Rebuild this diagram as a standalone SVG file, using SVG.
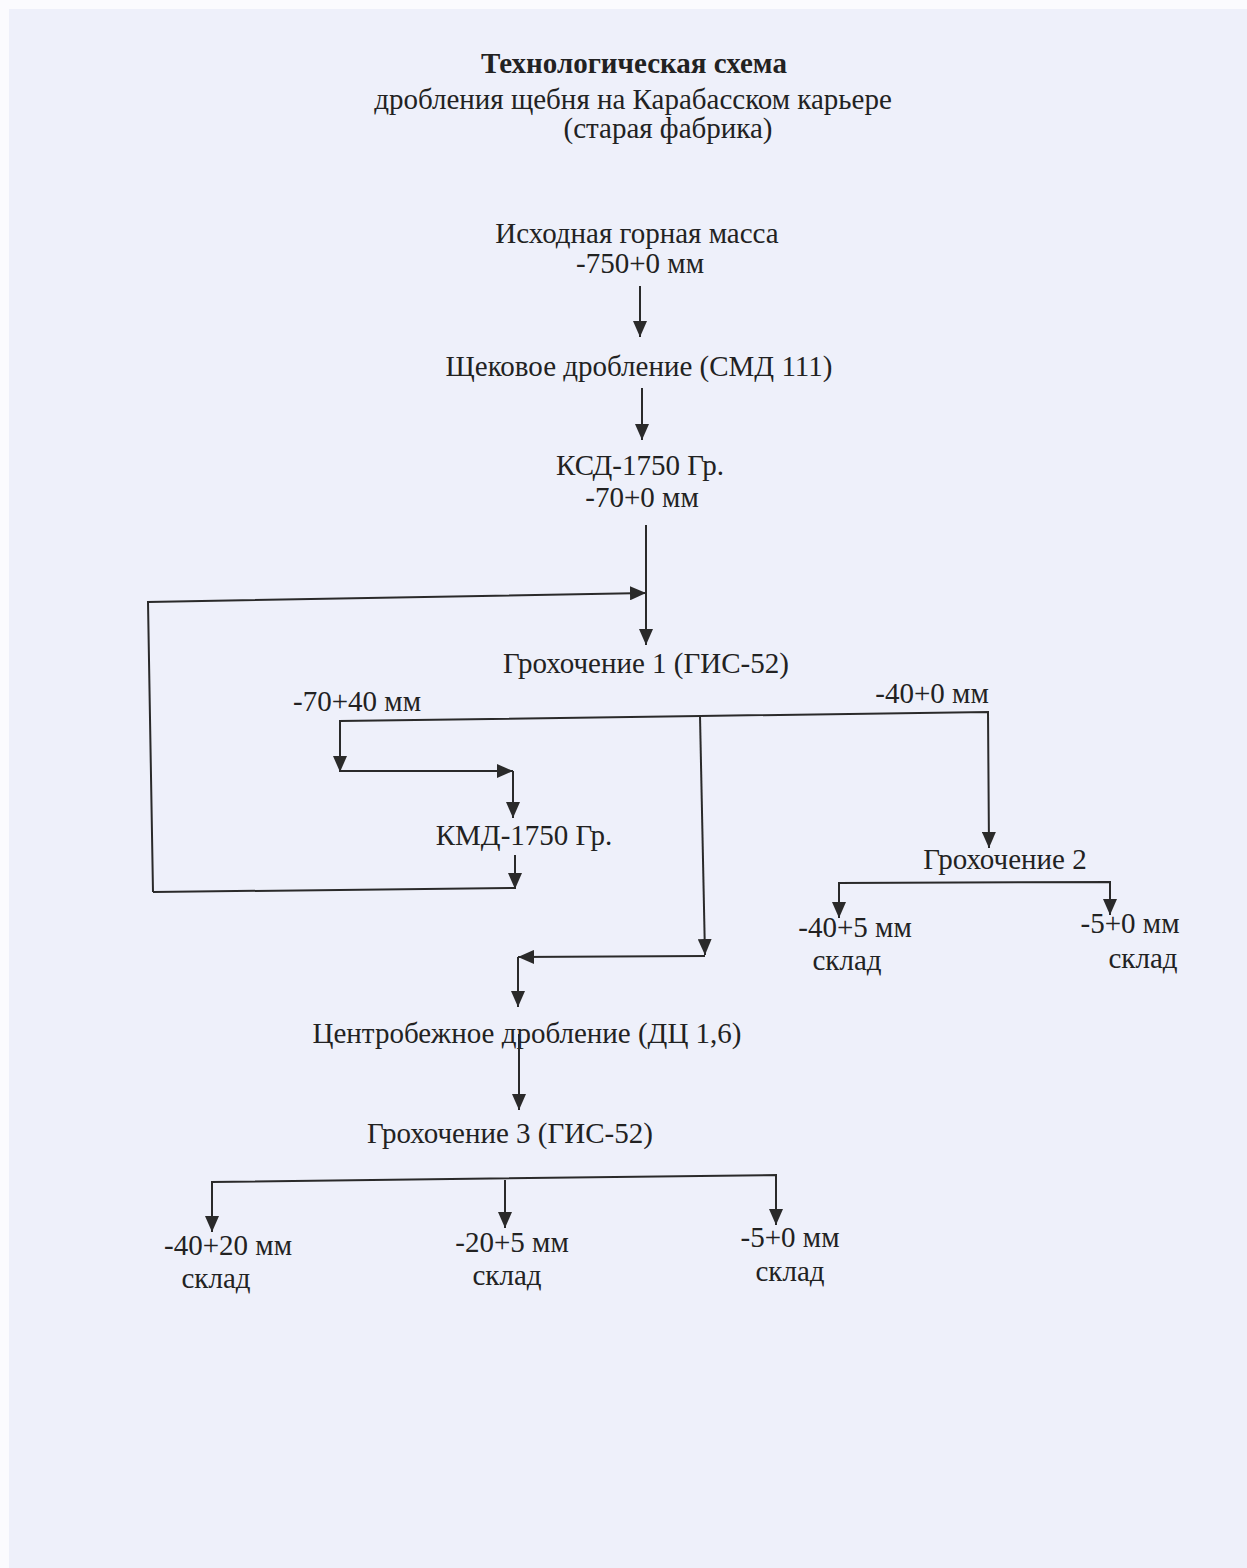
<svg xmlns="http://www.w3.org/2000/svg" width="1247" height="1568" viewBox="0 0 1247 1568">
<defs>
<style>
text{font-family:"Liberation Serif","Times New Roman",serif;font-size:29px;fill:#222;text-anchor:middle}
.title{font-weight:bold}
.ln{fill:none;stroke:#2a2a2a;stroke-width:2}
</style>
<marker id="ah" markerUnits="userSpaceOnUse" markerWidth="16" markerHeight="14" viewBox="0 0 16 14" refX="16" refY="7" orient="auto">
<path d="M0,0 L16,7 L0,14 Z" fill="#2a2a2a"/>
</marker>
</defs>
<rect x="0" y="0" width="1247" height="1568" fill="#fbfbfe"/>
<rect x="9" y="9" width="1238" height="1559" fill="#eef0fa"/>

<g id="title">
<text class="title" x="634" y="73">Технологическая схема</text>
<text x="633" y="109">дробления щебня на Карабасском карьере</text>
<text x="668" y="138">(старая фабрика)</text>
</g>

<g id="node-source"><text x="637" y="243">Исходная горная масса</text><text x="640" y="273">-750+0 мм</text></g>
<g id="node-jaw"><text x="639" y="376">Щековое дробление (СМД 111)</text></g>
<g id="node-ksd"><text x="640" y="475">КСД-1750 Гр.</text><text x="642" y="507">-70+0 мм</text></g>
<g id="node-screen1"><text x="646" y="673">Грохочение 1 (ГИС-52)</text></g>
<g id="label-70-40"><text x="357" y="711">-70+40 мм</text></g>
<g id="label-40-0"><text x="932" y="703">-40+0 мм</text></g>
<g id="node-kmd"><text x="524" y="845">КМД-1750 Гр.</text></g>
<g id="node-screen2"><text x="1005" y="869">Грохочение 2</text></g>
<g id="out-40-5"><text x="855" y="937">-40+5 мм</text><text x="847" y="970">склад</text></g>
<g id="out2-5-0"><text x="1130" y="933">-5+0 мм</text><text x="1143" y="968">склад</text></g>
<g id="node-centrifugal"><text x="527" y="1043">Центробежное дробление (ДЦ 1,6)</text></g>
<g id="node-screen3"><text x="510" y="1143">Грохочение 3 (ГИС-52)</text></g>
<g id="out-40-20"><text x="228" y="1255">-40+20 мм</text><text x="216" y="1288">склад</text></g>
<g id="out-20-5"><text x="512" y="1252">-20+5 мм</text><text x="507" y="1285">склад</text></g>
<g id="out3-5-0"><text x="790" y="1247">-5+0 мм</text><text x="790" y="1281">склад</text></g>

<g id="connectors">
<path class="ln" d="M640,286 L640,337" marker-end="url(#ah)"/>
<path class="ln" d="M642,388 L642,440" marker-end="url(#ah)"/>
<path class="ln" d="M646,525 L646,645" marker-end="url(#ah)"/>
<path class="ln" d="M153,892 L148,602 L646,593" marker-end="url(#ah)"/>
<path class="ln" d="M153,892 L515,888"/>
<path class="ln" d="M515,855 L515,889" marker-end="url(#ah)"/>
<path class="ln" d="M700,716 L340,721 L340,772" marker-end="url(#ah)"/>
<path class="ln" d="M340,771 L513,771" marker-end="url(#ah)"/>
<path class="ln" d="M513,771 L513,818" marker-end="url(#ah)"/>
<path class="ln" d="M700,716 L988,712 L989,848" marker-end="url(#ah)"/>
<path class="ln" d="M700,716 L705,955" marker-end="url(#ah)"/>
<path class="ln" d="M705,956 L518,957" marker-end="url(#ah)"/>
<path class="ln" d="M518,957 L518,1007" marker-end="url(#ah)"/>
<path class="ln" d="M839,918 L839,883 L1110,882 L1110,915" marker-end="url(#ah)"/>
<path class="ln" d="M839,883 L839,918" marker-end="url(#ah)"/>
<path class="ln" d="M519,1034 L519,1110" marker-end="url(#ah)"/>
<path class="ln" d="M212,1232 L212,1182 L776,1175 L776,1225" marker-end="url(#ah)"/>
<path class="ln" d="M212,1182 L212,1232" marker-end="url(#ah)"/>
<path class="ln" d="M505,1180 L505,1228" marker-end="url(#ah)"/>
</g>
</svg>
